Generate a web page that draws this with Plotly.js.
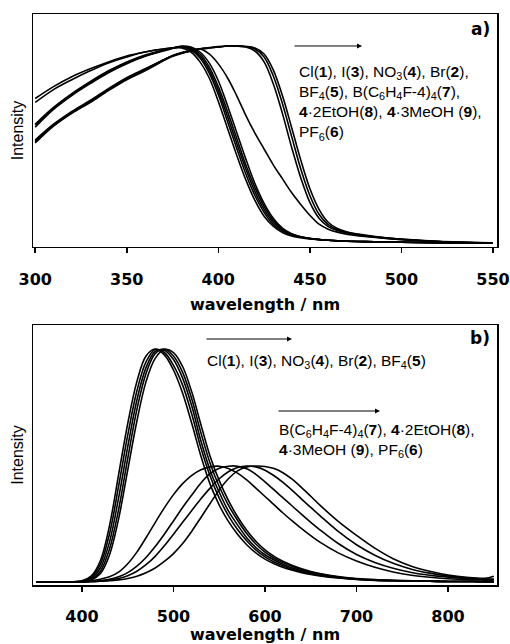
<!DOCTYPE html>
<html><head><meta charset="utf-8">
<script src="https://cdn.plot.ly/plotly-3.0.1.min.js"></script>
<style>html,body{margin:0;padding:0;background:#fff}#chart{width:510px;height:644px}</style>
</head><body><div id="chart"></div><script>
// ---------- panel a) normalized excitation/absorption spectra ----------
const wavelengthA = [300,310,320,330,340,350,360,370,375,380,385,390,395,400,405,410,415,420,425,430,435,440,445,450,455,460,465,470,480,490,500,520,550];
const absCl   = [.735,.795,.845,.885,.92,.95,.97,.985,.99,.99,.97,.92,.84,.72,.585,.45,.325,.22,.14,.09,.058,.04,.032,.026,.022,.019,.016,.014,.012,.01,.009,.006,.004];
const absI    = [.715,.78,.83,.875,.915,.945,.97,.985,.99,.995,.98,.94,.865,.755,.62,.485,.355,.245,.16,.10,.065,.045,.034,.027,.022,.019,.016,.014,.012,.01,.009,.006,.004];
const absNO3  = [.605,.69,.76,.82,.875,.92,.955,.98,.99,.995,.985,.95,.88,.775,.645,.51,.38,.265,.175,.11,.07,.048,.035,.028,.023,.019,.016,.014,.012,.01,.009,.006,.004];
const absBr   = [.60,.685,.755,.815,.87,.915,.95,.978,.99,.998,.99,.96,.895,.795,.67,.535,.40,.285,.19,.12,.075,.05,.036,.028,.023,.019,.016,.014,.012,.01,.009,.006,.004];
const absBF4  = [.59,.68,.75,.81,.865,.91,.948,.975,.988,1.0,.995,.97,.915,.825,.70,.565,.43,.305,.205,.13,.08,.052,.037,.029,.023,.019,.016,.014,.012,.01,.009,.006,.004];
const absBAr  = [.515,.60,.665,.72,.78,.835,.88,.93,.95,.965,.978,.985,.96,.91,.84,.75,.65,.56,.48,.40,.33,.26,.20,.145,.10,.075,.06,.05,.038,.029,.022,.012,.005];
const absEtOH = [.52,.60,.665,.72,.78,.835,.88,.93,.95,.965,.975,.985,.99,.995,1.0,1.0,.995,.975,.92,.81,.66,.49,.335,.21,.13,.088,.068,.057,.042,.031,.023,.013,.005];
const absMeOH = [.51,.595,.66,.715,.775,.83,.875,.925,.948,.963,.975,.985,.99,.995,1.0,1.0,.998,.985,.945,.85,.71,.545,.38,.245,.15,.098,.072,.059,.043,.032,.024,.013,.005];
const absPF6  = [.525,.605,.67,.725,.785,.84,.885,.93,.952,.967,.977,.986,.992,.997,1.0,1.0,.998,.99,.96,.88,.75,.59,.425,.28,.175,.11,.078,.062,.045,.033,.025,.014,.006];

// ---------- panel b) normalized emission spectra ----------
const wavelengthB = [350,380,400,410,420,430,440,450,460,470,480,490,500,510,520,530,540,550,560,570,580,590,600,610,620,630,640,650,660,680,700,720,740,760,780,800,820,840,850];
const emCl   = [0,0,.005,.025,.09,.24,.46,.68,.86,.97,1.0,.975,.91,.81,.68,.54,.42,.33,.26,.205,.16,.125,.098,.078,.062,.05,.04,.032,.026,.017,.011,.007,.005,.004,.003,.002,.002,.001,.001];
const emI    = [0,0,.004,.02,.075,.205,.41,.63,.82,.945,.998,.985,.93,.845,.72,.575,.455,.36,.285,.225,.177,.138,.108,.086,.069,.055,.044,.035,.028,.018,.012,.008,.005,.004,.003,.002,.002,.001,.001];
const emNO3  = [0,0,.003,.015,.06,.17,.36,.58,.78,.92,.99,.995,.955,.875,.755,.605,.48,.385,.305,.245,.19,.148,.117,.094,.075,.06,.048,.038,.03,.019,.012,.008,.006,.004,.003,.002,.002,.001,.001];
const emBr   = [0,0,.002,.01,.045,.14,.31,.53,.74,.895,.98,1.0,.97,.90,.785,.64,.51,.41,.33,.265,.208,.163,.128,.102,.082,.066,.053,.042,.034,.021,.014,.009,.006,.004,.003,.002,.002,.001,.001];
const emBF4  = [0,0,.001,.008,.035,.115,.27,.48,.69,.86,.96,.998,.985,.925,.815,.675,.54,.435,.35,.28,.222,.175,.138,.11,.088,.071,.057,.045,.036,.023,.015,.01,.007,.005,.003,.002,.002,.001,.001];
const emBAr  = [0,0,.002,.006,.012,.022,.042,.078,.128,.19,.255,.318,.375,.422,.458,.482,.494,.497,.487,.467,.438,.403,.367,.331,.295,.261,.229,.199,.171,.125,.09,.063,.043,.029,.02,.014,.01,.008,.007];
const emEtOH = [0,0,.001,.003,.006,.012,.022,.04,.068,.105,.152,.205,.262,.32,.373,.425,.465,.488,.497,.497,.486,.462,.43,.395,.36,.325,.29,.256,.224,.165,.118,.084,.059,.041,.029,.021,.015,.011,.01];
const emMeOH = [0,0,0,.002,.004,.008,.015,.027,.046,.074,.11,.155,.205,.256,.307,.357,.403,.443,.473,.491,.498,.494,.48,.456,.426,.392,.356,.32,.285,.217,.16,.115,.08,.055,.038,.026,.018,.013,.012];
const emPF6  = [0,0,0,.001,.003,.005,.009,.015,.025,.04,.06,.088,.122,.165,.218,.277,.337,.395,.443,.477,.494,.498,.496,.487,.468,.44,.405,.368,.33,.26,.20,.145,.10,.068,.046,.03,.02,.016,.025];

const absSeries = [absCl, absI, absNO3, absBr, absBF4, absBAr, absEtOH, absMeOH, absPF6];
const emSeries  = [emCl, emI, emNO3, emBr, emBF4, emBAr, emEtOH, emMeOH, emPF6];
const seriesNames = ['Cl(1)','I(3)','NO3(4)','Br(2)','BF4(5)','B(C6H4F-4)4(7)','4·2EtOH(8)','4·3MeOH(9)','PF6(6)'];
const ticksA = [300,350,400,450,500,550];
const ticksB = [400,500,600,700,800];

const lineStyle = {color:'#000', width:1.6, shape:'spline', smoothing:1};
const traces = [];
absSeries.forEach((ys,i)=>traces.push({x:wavelengthA, y:ys, name:seriesNames[i], type:'scatter', mode:'lines', line:lineStyle, xaxis:'x', yaxis:'y', hoverinfo:'skip'}));
emSeries.forEach((ys,i)=>traces.push({x:wavelengthB, y:ys, name:seriesNames[i], type:'scatter', mode:'lines', line:lineStyle, xaxis:'x2', yaxis:'y2', hoverinfo:'skip'}));

const tickFont = {family:'DejaVu Sans', size:16, weight:'bold', color:'#000'};
const titleFont = {family:'DejaVu Sans', size:16, weight:'bold', color:'#000'};
const yTitleFont = {family:'Liberation Sans, Arial', size:16, color:'#000'};
const txtFont = {family:'Liberation Sans, Arial', size:15.5, color:'#000'};
const frame = {showline:true, mirror:true, linecolor:'#000', linewidth:1.5, showgrid:false, zeroline:false};

const layout = {
  width:510, height:644, autosize:false,
  margin:{l:33, r:13, t:14, b:59},
  paper_bgcolor:'#fff', plot_bgcolor:'#fff', showlegend:false,
  xaxis: Object.assign({}, frame, {anchor:'y', domain:[0,1], range:[298.8,552.2], tickvals:ticksA, ticks:'outside', ticklen:5, tickwidth:1.5, tickcolor:'#000', tickfont:tickFont, ticklabelstandoff:12,
    title:{text:'wavelength / nm', font:titleFont, standoff:11}}),
  yaxis: Object.assign({}, frame, {anchor:'x', domain:[0.592,1], range:[-0.015,1.162], showticklabels:false, ticks:'',
    title:{text:'Intensity', font:yTitleFont, standoff:4}}),
  xaxis2: Object.assign({}, frame, {anchor:'y2', domain:[0,1], range:[346.5,853.5], tickvals:ticksB, ticks:'outside', ticklen:5, tickwidth:1.5, tickcolor:'#000', tickfont:tickFont, ticklabelstandoff:11,
    title:{text:'wavelength / nm', font:titleFont, standoff:4}}),
  yaxis2: Object.assign({}, frame, {anchor:'x2', domain:[0,0.4553], range:[-0.013,1.103], showticklabels:false, ticks:'',
    title:{text:'Intensity', font:yTitleFont, standoff:4}}),
  annotations:[
    {xref:'paper', yref:'paper', x:0.989, y:0.9737, xanchor:'right', yanchor:'middle', text:'<b>a)</b>', showarrow:false, font:{family:'DejaVu Sans', size:17, color:'#000'}},
    {xref:'paper', yref:'paper', x:0.989, y:0.4326, xanchor:'right', yanchor:'middle', text:'<b>b)</b>', showarrow:false, font:{family:'DejaVu Sans', size:17, color:'#000'}},
    {xref:'paper', yref:'paper', x:0.709, y:0.944, ax:-69, ay:0, text:'', showarrow:true, arrowhead:2, arrowsize:1, arrowwidth:1, arrowcolor:'#000'},
    {xref:'paper', yref:'paper', x:0.569, y:0.9177, xanchor:'left', yanchor:'top', align:'left', showarrow:false, font:txtFont,
      text:'Cl(<b>1</b>), I(<b>3</b>), NO<sub>3</sub>(<b>4</b>), Br(<b>2</b>),<br>BF<sub>4</sub>(<b>5</b>), B(C<sub>6</sub>H<sub>4</sub>F-4)<sub>4</sub>(<b>7</b>),<br><b>4</b>·2EtOH(<b>8</b>), <b>4</b>·3MeOH (<b>9</b>),<br>PF<sub>6</sub>(<b>6</b>)'},
    {xref:'paper', yref:'paper', x:(292-33)/464, y:(585-339)/571, ax:-87, ay:0, text:'', showarrow:true, arrowhead:2, arrowsize:1, arrowwidth:1, arrowcolor:'#000'},
    {xref:'paper', yref:'paper', x:(205-33)/464, y:(585-350)/571, xanchor:'left', yanchor:'top', align:'left', showarrow:false, font:txtFont,
      text:'Cl(<b>1</b>), I(<b>3</b>), NO<sub>3</sub>(<b>4</b>), Br(<b>2</b>), BF<sub>4</sub>(<b>5</b>)'},
    {xref:'paper', yref:'paper', x:(380-33)/464, y:(585-411)/571, ax:-103, ay:0, text:'', showarrow:true, arrowhead:2, arrowsize:1, arrowwidth:1, arrowcolor:'#000'},
    {xref:'paper', yref:'paper', x:(277-33)/464, y:(585-419)/571, xanchor:'left', yanchor:'top', align:'left', showarrow:false, font:txtFont,
      text:'B(C<sub>6</sub>H<sub>4</sub>F-4)<sub>4</sub>(<b>7</b>), <b>4</b>·2EtOH(<b>8</b>),<br><b>4</b>·3MeOH (<b>9</b>), PF<sub>6</sub>(<b>6</b>)'}
  ]
};
Plotly.newPlot('chart', traces, layout, {staticPlot:true, displayModeBar:false});
</script></body></html>
